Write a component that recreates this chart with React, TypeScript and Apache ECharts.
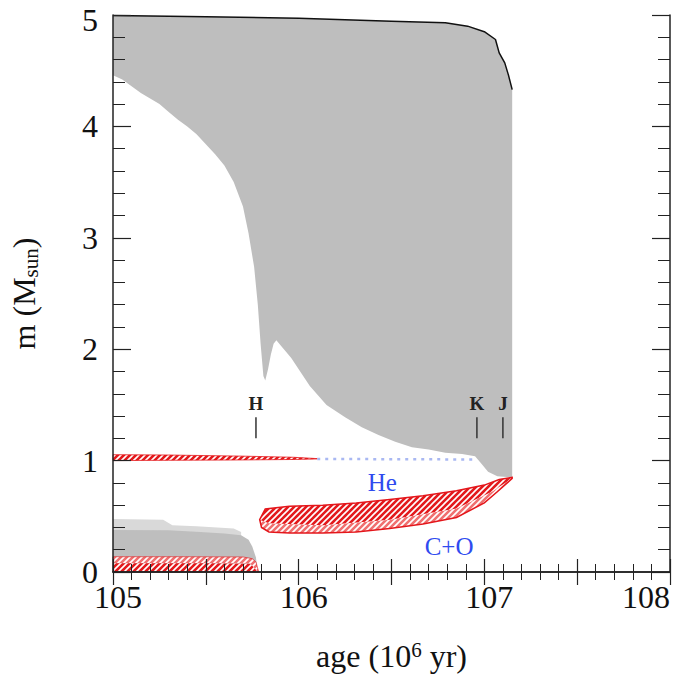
import React, { useEffect, useRef } from 'react';
import * as echarts from 'echarts';

// ---- data (age in 10^6 yr, mass coordinate in Msun) ----
const envTopAge = [105.0, 105.5, 106.0, 106.5, 106.79, 106.91, 107.0, 107.06, 107.08, 107.11, 107.13, 107.15];
const envTopMass = [4.995, 4.985, 4.97, 4.945, 4.93, 4.9, 4.85, 4.78, 4.66, 4.57, 4.46, 4.33];

const envBaseAge = [105.0, 105.05, 105.1, 105.15, 105.2, 105.25, 105.3, 105.35, 105.4, 105.45, 105.5, 105.55, 105.6, 105.65, 105.7, 105.73, 105.76, 105.78, 105.795, 105.81, 105.82, 105.835, 105.85, 105.865, 105.88, 105.9, 105.96, 106.06, 106.15, 106.25, 106.34, 106.43, 106.52, 106.61, 106.7, 106.79, 106.88, 106.95, 106.98, 107.02, 107.07, 107.15];
const envBaseMass = [4.46, 4.42, 4.36, 4.3, 4.25, 4.2, 4.13, 4.06, 4.0, 3.93, 3.84, 3.75, 3.65, 3.5, 3.28, 3.04, 2.74, 2.4, 2.05, 1.76, 1.72, 1.82, 1.95, 2.05, 2.08, 2.04, 1.92, 1.67, 1.5, 1.39, 1.3, 1.23, 1.17, 1.12, 1.1, 1.07, 1.06, 1.04, 0.98, 0.9, 0.86, 0.85];

const coreOuterAge = [105.0, 105.27, 105.32, 105.45, 105.65, 105.69];
const coreOuterMass = [0.475, 0.47, 0.42, 0.41, 0.39, 0.36];

const coreAge = [105.0, 105.3, 105.47, 105.6, 105.69, 105.73, 105.75, 105.77, 105.78];
const coreMass = [0.378, 0.375, 0.36, 0.345, 0.33, 0.29, 0.23, 0.13, 0.0];

const burnTopAge = [105.0, 105.4, 105.7, 105.75, 105.77, 105.785];
const burnTopMass = [0.137, 0.137, 0.135, 0.12, 0.09, 0.0];
const burnMidAge = [105.0, 105.5, 105.74, 105.78];
const burnMidMass = [0.078, 0.078, 0.075, 0.0];

const shellAge = [105.0, 105.3, 105.7, 105.97, 106.1];
const shellTopMass = [1.053, 1.05, 1.04, 1.03, 1.018];
const shellBotMass = [1.0, 1.003, 1.006, 1.01, 1.015];

const heDotAge = [106.1, 106.95];
const heDotMass = [1.015, 1.01];

const bandTopAge = [105.79, 105.82, 105.95, 106.13, 106.31, 106.49, 106.67, 106.85, 107.0, 107.08, 107.15];
const bandTopMass = [0.47, 0.565, 0.59, 0.6, 0.62, 0.65, 0.685, 0.73, 0.78, 0.83, 0.85];
const bandMidAge = [105.79, 105.84, 106.13, 106.49, 106.85, 107.04, 107.15];
const bandMidMass = [0.47, 0.437, 0.42, 0.47, 0.57, 0.72, 0.84];
const bandBotAge = [105.79, 105.8, 105.84, 105.95, 106.13, 106.31, 106.49, 106.67, 106.85, 107.0, 107.07, 107.15];
const bandBotMass = [0.47, 0.4, 0.36, 0.35, 0.35, 0.36, 0.39, 0.43, 0.49, 0.62, 0.72, 0.84];

const markerNames = ['H', 'K', 'J'];
const markerAges = [105.77, 106.96, 107.1];

const regionNames = ['He', 'C+O'];
const regionAges = [106.45, 106.81];
const regionMasses = [0.8, 0.23];

const FONT = 'Liberation Serif, Times New Roman, DejaVu Serif, serif';

const zip = (a: number[], b: number[]) => a.map((v, i) => [v, b[i]]);

function hatch(bg: string, fg: string, size: number, lw: number) {
  const c = document.createElement('canvas');
  c.width = size;
  c.height = size;
  const ctx = c.getContext('2d')!;
  ctx.fillStyle = bg;
  ctx.fillRect(0, 0, size, size);
  ctx.strokeStyle = fg;
  ctx.lineWidth = lw;
  ctx.beginPath();
  ctx.moveTo(0, size);
  ctx.lineTo(size, 0);
  ctx.moveTo(-size / 2, size / 2);
  ctx.lineTo(size / 2, -size / 2);
  ctx.moveTo(size / 2, size * 1.5);
  ctx.lineTo(size * 1.5, size / 2);
  ctx.stroke();
  return { image: c, repeat: 'repeat', imageWidth: size, imageHeight: size };
}

function polySeries(pts: number[][], style: any, z = 2) {
  return {
    type: 'custom',
    xAxisIndex: 0,
    yAxisIndex: 0,
    z,
    silent: true,
    data: [pts[0]],
    renderItem: (params: any, api: any) => {
      if (params.dataIndex !== 0) return null;
      return {
        type: 'polygon',
        shape: { points: pts.map((p) => api.coord(p)) },
        style,
      };
    },
  };
}

export default function App() {
  const ref = useRef<HTMLDivElement>(null);
  useEffect(() => {
    document.body.style.margin = '0';
    const chart = echarts.init(ref.current!, null, { renderer: 'svg' });

    const darkHatch = hatch('#e3191c', '#ffffff', 6, 1.6);
    const lightHatch = hatch('#ffffff', '#f07070', 6, 2.6);
    const red = '#e4161b';

    const envPts = zip(envTopAge, envTopMass).concat(zip(envBaseAge, envBaseMass).reverse());
    const outerPts = zip(coreOuterAge, coreOuterMass).concat([
      [coreOuterAge[coreOuterAge.length - 1], 0],
      [coreOuterAge[0], 0],
    ]);
    const corePts = zip(coreAge, coreMass).concat([[coreAge[0], 0]]);
    const burnLightPts = zip(burnTopAge, burnTopMass).concat(zip(burnMidAge, burnMidMass).reverse());
    const burnDarkPts = zip(burnMidAge, burnMidMass).concat([[burnMidAge[0], 0]]);
    const burnAll = zip(burnTopAge, burnTopMass).concat([[burnTopAge[0], 0]]);
    const shellPts = zip(shellAge, shellTopMass).concat(zip(shellAge, shellBotMass).reverse());
    const bandDarkPts = zip(bandTopAge, bandTopMass).concat(zip(bandMidAge, bandMidMass).reverse());
    const bandLightPts = zip(bandMidAge, bandMidMass).concat(zip(bandBotAge, bandBotMass).reverse());
    const bandAll = zip(bandTopAge, bandTopMass).concat(zip(bandBotAge, bandBotMass).reverse());

    const axisLine = { show: true, lineStyle: { color: '#222', width: 1.5 } };
    const xCommon = {
      type: 'value',
      min: 105,
      max: 108,
      interval: 0.5,
      z: 10,
      axisLine,
      axisTick: { show: true, inside: true, length: 13, lineStyle: { color: '#222', width: 1.2 } },
      minorTick: { show: true, splitNumber: 5, length: 8, lineStyle: { color: '#222', width: 1 } },
      splitLine: { show: false },
    };
    const yCommon = {
      type: 'value',
      min: 0,
      max: 5,
      interval: 1,
      z: 10,
      axisLine,
      axisTick: { show: true, inside: true, length: 18, lineStyle: { color: '#222', width: 1.2 } },
      minorTick: { show: true, splitNumber: 5, length: 12, lineStyle: { color: '#222', width: 1 } },
      splitLine: { show: false },
    };

    chart.setOption({
      animation: false,
      grid: { left: 113, right: 5, top: 15, bottom: 110, containLabel: false, outerBoundsMode: 'none' },
      xAxis: [
        {
          ...xCommon,
          position: 'bottom',
          axisLabel: {
            show: true,
            margin: 9,
            fontSize: 32,
            fontFamily: FONT,
            color: '#111',
            padding: [0, 0, 0, 10],
            alignMaxLabel: 'right',
            formatter: (v: number) => (Math.abs(v - Math.round(v)) < 1e-6 ? String(Math.round(v)) : ''),
          },
          name: '{a|age (10}{s|6}{a| yr)}',
          nameLocation: 'middle',
          nameGap: 67,
          nameTextStyle: {
            fontFamily: FONT,
            color: '#111',
            rich: {
              a: { fontSize: 32, fontFamily: FONT, color: '#111', lineHeight: 34 },
              s: { fontSize: 21, fontFamily: FONT, color: '#111', lineHeight: 18, verticalAlign: 'top' },
            },
          },
        },
        { ...xCommon, position: 'top', axisLabel: { show: false } },
      ],
      yAxis: [
        {
          ...yCommon,
          position: 'left',
          axisLabel: {
            show: true,
            margin: 15,
            fontSize: 32,
            fontFamily: FONT,
            color: '#111',
            formatter: (v: number) => (v === 5 ? '{t|5}' : String(v)),
            rich: {
              t: { fontSize: 32, fontFamily: FONT, color: '#111', padding: [9, 0, 0, 0] },
            },
          },
          name: '{a|m (M}{b|sun}{a|)}',
          nameLocation: 'middle',
          nameRotate: 90,
          nameGap: 72,
          nameTextStyle: {
            fontFamily: FONT,
            color: '#111',
            rich: {
              a: { fontSize: 32, fontFamily: FONT, color: '#111', lineHeight: 34 },
              b: { fontSize: 21, fontFamily: FONT, color: '#111', lineHeight: 18, verticalAlign: 'bottom' },
            },
          },
        },
        { ...yCommon, position: 'right', axisLabel: { show: false } },
      ],
      series: [
        polySeries(envPts, { fill: '#bebebe' }),
        polySeries(outerPts, { fill: '#d9d9d9' }),
        polySeries(corePts, { fill: '#bebebe' }),
        polySeries(burnLightPts, { fill: lightHatch }),
        polySeries(burnDarkPts, { fill: darkHatch }),
        polySeries(burnAll, { fill: 'none', stroke: red, lineWidth: 1, opacity: 0.6 }),
        polySeries(shellPts, { fill: darkHatch, stroke: red, lineWidth: 0.8 }),
        {
          type: 'line',
          data: zip(heDotAge, heDotMass),
          showSymbol: false,
          silent: true,
          z: 3,
          lineStyle: { color: '#a9b8f2', width: 2.5, type: [3, 5] },
        },
        polySeries(bandLightPts, { fill: lightHatch }),
        polySeries(bandDarkPts, { fill: darkHatch }),
        polySeries(bandAll, { fill: 'none', stroke: red, lineWidth: 1.5 }),
        {
          type: 'line',
          data: zip(envTopAge, envTopMass),
          showSymbol: false,
          silent: true,
          z: 4,
          lineStyle: { color: '#111', width: 1.5 },
        },
        {
          type: 'custom',
          z: 5,
          silent: true,
          data: markerAges.map((a) => [a, 1.3]),
          renderItem: (params: any, api: any) => {
            const age = api.value(0);
            const pt = api.coord([age, 1.51]);
            const p1 = api.coord([age, 1.39]);
            const p2 = api.coord([age, 1.2]);
            return {
              type: 'group',
              children: [
                {
                  type: 'text',
                  style: {
                    text: markerNames[params.dataIndex],
                    x: pt[0],
                    y: pt[1],
                    align: 'center',
                    verticalAlign: 'middle',
                    fontSize: 19,
                    fontWeight: 'bold',
                    fontFamily: FONT,
                    fill: '#222',
                  },
                },
                {
                  type: 'line',
                  shape: { x1: p1[0], y1: p1[1], x2: p2[0], y2: p2[1] },
                  style: { stroke: '#333', lineWidth: 1.5 },
                },
              ],
            };
          },
        },
        {
          type: 'custom',
          z: 5,
          silent: true,
          data: zip(regionAges, regionMasses),
          renderItem: (params: any, api: any) => {
            const pt = api.coord([api.value(0), api.value(1)]);
            return {
              type: 'text',
              style: {
                text: regionNames[params.dataIndex],
                x: pt[0],
                y: pt[1],
                align: 'center',
                verticalAlign: 'middle',
                fontSize: 25,
                fontFamily: FONT,
                fill: '#2f4bef',
              },
            };
          },
        },
      ],
    });
    return () => chart.dispose();
  }, []);
  return <div ref={ref} style={{ width: 675, height: 682 }} />;
}
